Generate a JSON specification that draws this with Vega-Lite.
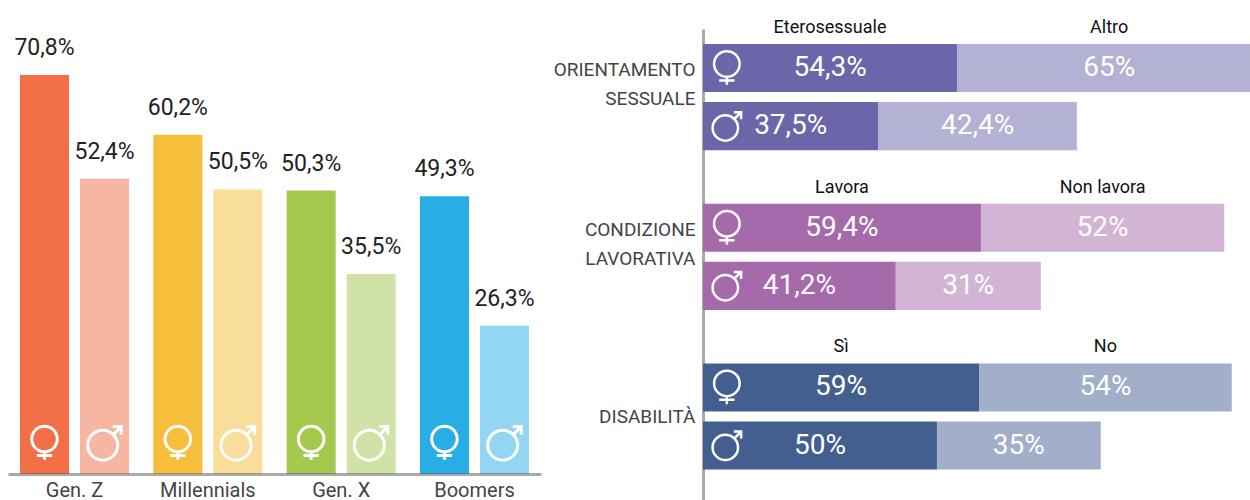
{"$schema":"https://vega.github.io/schema/vega-lite/v6.json","padding":{"left":8,"top":19,"right":0,"bottom":0},"background":"white","spacing":12,"config":{"view":{"stroke":null},"font":"Roboto"},"resolve":{"scale":{"color":"independent","shape":"independent","size":"independent"}},
"datasets":{"gen":[
{"gen":"Gen. Z","gender":"♀","series":"Gen. Z ♀","pct":70.8,"label":"70,8%"},
{"gen":"Gen. Z","gender":"♂","series":"Gen. Z ♂","pct":52.4,"label":"52,4%"},
{"gen":"Millennials","gender":"♀","series":"Millennials ♀","pct":60.2,"label":"60,2%"},
{"gen":"Millennials","gender":"♂","series":"Millennials ♂","pct":50.5,"label":"50,5%"},
{"gen":"Gen. X","gender":"♀","series":"Gen. X ♀","pct":50.3,"label":"50,3%"},
{"gen":"Gen. X","gender":"♂","series":"Gen. X ♂","pct":35.5,"label":"35,5%"},
{"gen":"Boomers","gender":"♀","series":"Boomers ♀","pct":49.3,"label":"49,3%"},
{"gen":"Boomers","gender":"♂","series":"Boomers ♂","pct":26.3,"label":"26,3%"}],
"cond":[
{"group":"ORIENTAMENTO SESSUALE","gender":"♀","part":1,"segment":"Eterosessuale","series":"O1","pct":54.3,"label":"54,3%"},
{"group":"ORIENTAMENTO SESSUALE","gender":"♀","part":2,"segment":"Altro","series":"O2","pct":65,"label":"65%"},
{"group":"ORIENTAMENTO SESSUALE","gender":"♂","part":1,"segment":"Eterosessuale","series":"O1","pct":37.5,"label":"37,5%"},
{"group":"ORIENTAMENTO SESSUALE","gender":"♂","part":2,"segment":"Altro","series":"O2","pct":42.4,"label":"42,4%"},
{"group":"CONDIZIONE LAVORATIVA","gender":"♀","part":1,"segment":"Lavora","series":"C1","pct":59.4,"label":"59,4%"},
{"group":"CONDIZIONE LAVORATIVA","gender":"♀","part":2,"segment":"Non lavora","series":"C2","pct":52,"label":"52%"},
{"group":"CONDIZIONE LAVORATIVA","gender":"♂","part":1,"segment":"Lavora","series":"C1","pct":41.2,"label":"41,2%"},
{"group":"CONDIZIONE LAVORATIVA","gender":"♂","part":2,"segment":"Non lavora","series":"C2","pct":31,"label":"31%"},
{"group":"DISABILITÀ","gender":"♀","part":1,"segment":"Sì","series":"D1","pct":59,"label":"59%"},
{"group":"DISABILITÀ","gender":"♀","part":2,"segment":"No","series":"D2","pct":54,"label":"54%"},
{"group":"DISABILITÀ","gender":"♂","part":1,"segment":"Sì","series":"D1","pct":50,"label":"50%"},
{"group":"DISABILITÀ","gender":"♂","part":2,"segment":"No","series":"D2","pct":35,"label":"35%"}]},
"hconcat":[
{"width":533,"height":445,"data":{"name":"gen"},
"encoding":{
"x":{"field":"gen","type":"nominal","sort":null,"title":null,"scale":{"paddingInner":0.182,"paddingOuter":0.09},"axis":{"labelAngle":0,"ticks":false,"domainColor":"#555","domainOpacity":0.5,"domainWidth":3,"zindex":1,"labelFont":"Roboto","labelFontSize":20,"labelColor":"#444","labelPadding":6}},
"xOffset":{"field":"gender","type":"nominal","sort":null,"scale":{"domain":["♀","♂"],"paddingInner":0.183,"paddingOuter":0}}},
"layer":[
{"mark":{"type":"bar"},"encoding":{
"y":{"field":"pct","type":"quantitative","title":null,"scale":{"domain":[0,78.96],"nice":false},"axis":null},
"color":{"field":"series","type":"nominal","legend":null,"scale":{"domain":["Gen. Z ♀","Gen. Z ♂","Millennials ♀","Millennials ♂","Gen. X ♀","Gen. X ♂","Boomers ♀","Boomers ♂"],"range":["#F26F48","#F6B6A2","#F7BE3B","#F9DD9A","#A4C94F","#D1E2A7","#28AEE7","#93D6F3"]}}}},
{"mark":{"type":"text","dy":-27,"baseline":"middle","font":"Roboto","fontSize":23,"color":"#222"},"encoding":{
"y":{"field":"pct","type":"quantitative","scale":{"domain":[0,78.96],"nice":false},"axis":null},
"text":{"field":"label","type":"nominal"}}},
{"mark":{"type":"point","filled":false,"stroke":"white","strokeWidth":3,"opacity":1,"size":1332},"encoding":{
"y":{"datum":5.5,"type":"quantitative","scale":{"domain":[0,78.96],"nice":false},"axis":null},
"shape":{"field":"gender","type":"nominal","legend":null,"scale":{"domain":["♀","♂"],"range":["M0.7,-0.22A0.7,0.7 0 1 1 -0.7,-0.22A0.7,0.7 0 1 1 0.7,-0.22M0,0.48L0,0.92M-0.42,0.68L0.42,0.68","M0.72,0.12A0.82,0.82 0 1 1 -0.92,0.12A0.82,0.82 0 1 1 0.72,0.12M0.48,-0.46L0.92,-0.9M0.45,-0.9L0.92,-0.9L0.92,-0.45"]}}}}
]},
{"width":547,"height":471,"data":{"name":"cond"},
"encoding":{
"y":{"field":"group","type":"nominal","sort":null,"title":null,"scale":{"paddingInner":0.335,"paddingOuter":0.142,"align":0.33},"axis":{"ticks":false,"domainColor":"#aaa","domainWidth":3,"labelFont":"Roboto","labelFontSize":19,"labelColor":"#444","labelPadding":8,"labelLineHeight":29,"labelLimit":300,"labelOffset":{"expr":"indexof(datum.value,' ')>0 ? -27 : 0"},"labelExpr":"indexof(datum.label,' ')>0 ? split(datum.label,' ') : datum.label"}},
"yOffset":{"field":"gender","type":"nominal","sort":null,"scale":{"domain":["♀","♂"],"paddingInner":0.172,"paddingOuter":0}}},
"layer":[
{"mark":{"type":"bar","clip":true},"encoding":{
"x":{"field":"pct","type":"quantitative","stack":"zero","title":null,"scale":{"domain":[0,116.9],"nice":false},"axis":null},
"order":{"field":"part","type":"ordinal"},
"color":{"field":"series","type":"nominal","legend":null,"scale":{"domain":["O1","O2","C1","C2","D1","D2"],"range":["#6B66AA","#B3B1D4","#A56AAA","#D2B4D5","#425F90","#A1AFC8"]}}}},
{"mark":{"type":"text","baseline":"middle","font":"Roboto","fontSize":28,"color":"white"},"encoding":{
"x":{"field":"pct","type":"quantitative","stack":"zero","bandPosition":0.5,"scale":{"domain":[0,116.9],"nice":false},"axis":null},
"order":{"field":"part","type":"ordinal"},
"text":{"field":"label","type":"nominal"}}},
{"transform":[{"filter":"datum.gender=='♀'"}],"mark":{"type":"text","baseline":"middle","dy":-40,"font":"Roboto","fontSize":18,"color":"#111"},"encoding":{
"x":{"field":"pct","type":"quantitative","stack":"zero","bandPosition":0.5,"scale":{"domain":[0,116.9],"nice":false},"axis":null},
"order":{"field":"part","type":"ordinal"},
"text":{"field":"segment","type":"nominal"}}},
{"transform":[{"filter":"datum.part==1"}],"mark":{"type":"point","filled":false,"stroke":"white","strokeWidth":2.5,"opacity":1},"encoding":{
"x":{"datum":5.1,"type":"quantitative","scale":{"domain":[0,116.9],"nice":false},"axis":null},
"size":{"field":"gender","type":"nominal","legend":null,"scale":{"domain":["♀","♂"],"range":[1332,960]}},
"shape":{"field":"gender","type":"nominal","legend":null,"scale":{"domain":["♀","♂"],"range":["M0.7,-0.22A0.7,0.7 0 1 1 -0.7,-0.22A0.7,0.7 0 1 1 0.7,-0.22M0,0.48L0,0.92M-0.42,0.68L0.42,0.68","M0.72,0.12A0.82,0.82 0 1 1 -0.92,0.12A0.82,0.82 0 1 1 0.72,0.12M0.48,-0.46L0.92,-0.9M0.45,-0.9L0.92,-0.9L0.92,-0.45"]}}}}
]}
]}
